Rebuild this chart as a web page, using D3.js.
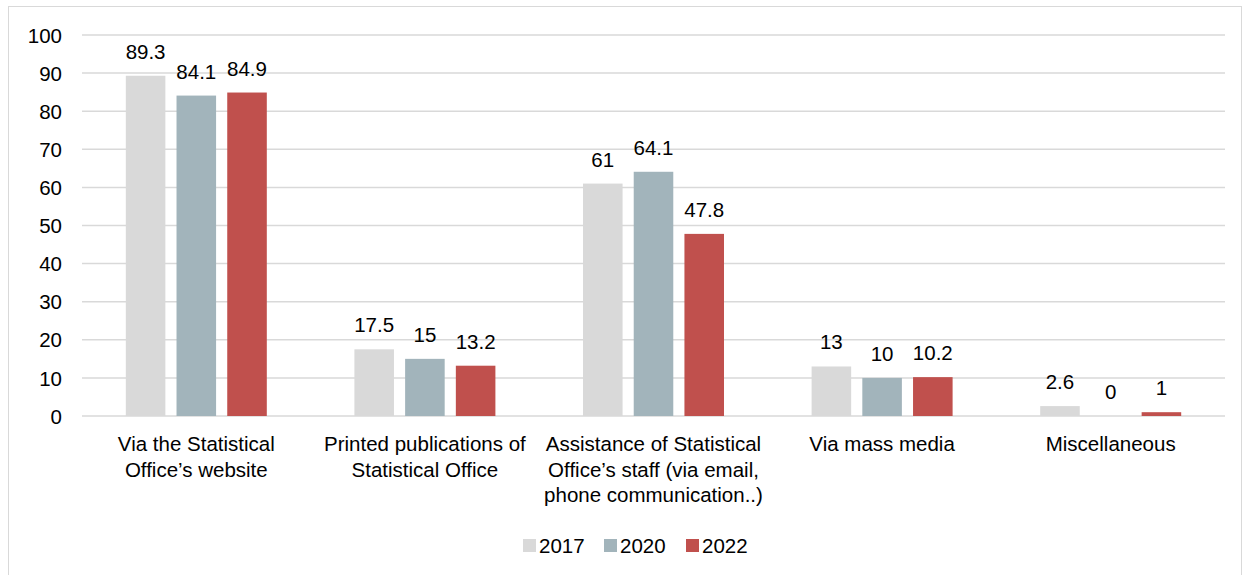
<!DOCTYPE html>
<html><head><meta charset="utf-8">
<script src="https://cdn.jsdelivr.net/npm/d3@7"></script>
<style>body{margin:0;background:#fff}svg{display:block}text{font-family:"Liberation Sans",Arial,sans-serif;fill:#000}</style>
</head><body><svg id="c" width="1250" height="575"></svg>
<script>
const categories = [["Via the Statistical","Office’s website"],["Printed publications of","Statistical Office"],["Assistance of Statistical","Office’s staff (via email,","phone communication..)"],["Via mass media"],["Miscellaneous"]];
const seriesNames = ["2017","2020","2022"];
const v2017 = [89.3,17.5,61,13,2.6];
const v2020 = [84.1,15,64.1,10,0];
const v2022 = [84.9,13.2,47.8,10.2,1];
const yTicks = [0,10,20,30,40,50,60,70,80,90,100];
const colors = ["#d9d9d9","#a2b4bb","#c0504d"];
const series = [v2017,v2020,v2022];
const FS = "20.5px";

const svg = d3.select("#c");
svg.append("rect").attr("x",8.5).attr("y",6.5).attr("width",1233).attr("height",600).attr("fill","none").attr("stroke","#d9d9d9");
const L=82,R=1225,T=35,B=416;
const x0 = d3.scaleBand().domain(d3.range(categories.length)).range([L,R]);
const x1 = d3.scaleBand().domain(d3.range(3)).range([0,141]).paddingInner(0.22);
const y = d3.scaleLinear().domain([0,100]).range([B,T]);

svg.append("g").selectAll("line").data(yTicks).enter().append("line")
 .attr("x1",L).attr("x2",R).attr("y1",d=>y(d)).attr("y2",d=>y(d)).attr("stroke","#d9d9d9").attr("stroke-width",1.5);
const yAxis = d3.axisLeft(y).tickValues(yTicks).tickSize(0).tickPadding(20);
const ya = svg.append("g").attr("transform",`translate(${L},0)`).call(yAxis);
ya.select(".domain").remove();
ya.selectAll("text").style("font-size",FS).attr("dy","0.35em").style("font-family","'Liberation Sans',Arial,sans-serif").attr("fill","#000");

const off = (x0.bandwidth()-141)/2;
series.forEach((s,si)=>{
  const gg = svg.append("g");
  gg.selectAll("rect").data(s).enter().append("rect")
   .attr("x",(d,i)=>x0(i)+off+x1(si)).attr("width",x1.bandwidth())
   .attr("y",d=>y(d)).attr("height",d=>B-y(d)).attr("fill",colors[si]);
  gg.selectAll("text").data(s).enter().append("text")
   .attr("x",(d,i)=>x0(i)+off+x1(si)+x1.bandwidth()/2).attr("y",d=>y(d)-17)
   .attr("text-anchor","middle").style("font-size",FS).text(d=>d);
});

categories.forEach((lines,i)=>{
  const t = svg.append("text").attr("text-anchor","middle").style("font-size",FS);
  lines.forEach((ln,j)=>t.append("tspan").attr("x",x0(i)+x0.bandwidth()/2).attr("y",451+j*25.5).text(ln));
});

const legX=[523,604,686];
seriesNames.forEach((n,i)=>{
  svg.append("rect").attr("x",legX[i]).attr("y",539).attr("width",13).attr("height",13).attr("fill",colors[i]);
  svg.append("text").attr("x",legX[i]+16).attr("y",553).style("font-size",FS).text(n);
});
</script></body></html>
